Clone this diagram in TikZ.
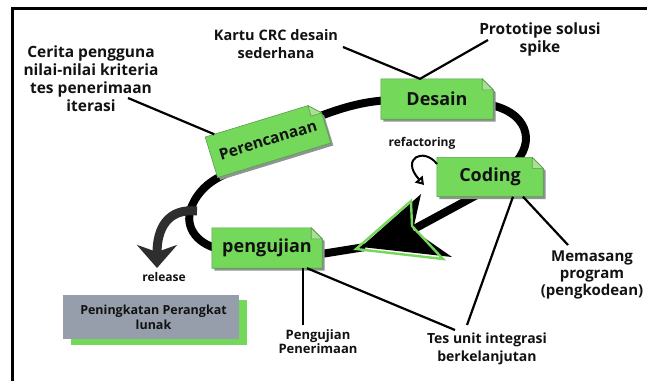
\documentclass[tikz,border=0pt]{standalone}
\usepackage{fontspec}
\setmainfont{Open Sans}
\usetikzlibrary{calc,arrows.meta}
\definecolor{gr}{HTML}{74D85B}
\definecolor{grline}{HTML}{5E9A50}
\definecolor{shad}{HTML}{8C9690}
\definecolor{foldc}{HTML}{A8E096}
\definecolor{slate}{HTML}{959EAA}
\definecolor{relgray}{HTML}{2E2E2E}
\definecolor{txt}{HTML}{121212}
\pgfdeclarelayer{bg}
\pgfsetlayers{bg,main}
\newcommand\docshape[1]{%
 \coordinate (#1-a) at (#1.south west);
 \coordinate (#1-b) at (#1.north west);
 \coordinate (#1-c) at ($(#1.north east)!11pt!(#1.north west)$);
 \coordinate (#1-d) at ($(#1.north east)!11pt!(#1.south east)$);
 \coordinate (#1-e) at (#1.south east);
 \coordinate (#1-f) at ($(#1-c)+(#1-d)-(#1.north east)$);
 \fill[shad] ($(#1-a)+(2.5pt,-2.5pt)$) -- ($(#1-b)+(2.5pt,-2.5pt)$) -- ($(#1-c)+(2.5pt,-2.5pt)$) -- ($(#1-d)+(2.5pt,-2.5pt)$) -- ($(#1-e)+(2.5pt,-2.5pt)$) -- cycle;
 \filldraw[fill=gr, draw=grline, line width=0.6pt] (#1-a) -- (#1-b) -- (#1-c) -- (#1-d) -- (#1-e) -- cycle;
 \filldraw[fill=foldc, draw=grline, line width=0.6pt] (#1-c) -- (#1-f) -- (#1-d) -- cycle;
}
\begin{document}
\begin{tikzpicture}[x=1pt,y=-1pt,
  docnode/.style={inner sep=0pt, text=txt, font=\fontsize{18}{20}\selectfont\bfseries},
  lbl/.style={align=center, text=txt, font=\fontsize{14}{18}\selectfont\bfseries},
  small/.style={align=center, text=txt, font=\fontsize{12}{14}\selectfont\bfseries},
  conn/.style={line width=2.2pt, black},
  loopline/.style={line width=8pt, black}]
\useasboundingbox (0,0) rectangle (647,381);

% nodes
\node[docnode, minimum width=112pt, minimum height=40pt] (des) at (437,99) {Desain};
\node[docnode, minimum width=106pt, minimum height=39pt] (cod) at (490,177) {Coding};
\node[docnode, minimum width=110pt, minimum height=40pt] (pen) at (267,248) {pengujian};
\node[docnode, rotate=17, minimum width=118pt, minimum height=42pt, font=\fontsize{15.5}{17}\selectfont\bfseries] (per) at (268,140) {Perencanaan};

\begin{pgfonlayer}{bg}
 \fill[white] (0,0) rectangle (647,381);
 % frame
 \draw[line width=3pt] (12,381) -- (12,8) -- (647,8);
 % loop
 \draw[loopline] (224,250) .. controls (198,246) and (184,228) .. (191,208) .. controls (198,190) and (212,178) .. (236,170);
 \draw[loopline] (305,122) .. controls (335,110) and (360,101) .. (392,100);
 \draw[loopline] (485,104) .. controls (527,110) and (538,142) .. (512,166);
 \draw[loopline] (486,190) -- (414,229);
 \draw[loopline] (365,247) -- (315,255);
 % arrowhead
 \fill[black] (361,247) -- (421,194) -- (413,230) -- (452,257) -- cycle;
 \draw[gr, line width=2.4pt, line join=miter] (356,249) -- (411,201) -- (412,226) -- (443,259) -- cycle;
 % doc shapes
 \docshape{des}
 \docshape{cod}
 \docshape{pen}
 \docshape{per}
\end{pgfonlayer}

% release arrow
\draw[relgray, line width=9pt, -{Stealth[length=23pt,width=40pt,inset=7pt]}] (197,211) .. controls (168,208) and (157,228) .. (157,268);
\node[small] (rel) at (164,277) {release};

% gray box
\fill[gr] (71,300) rectangle (247,345);
\node[fill=slate, minimum width=176pt, minimum height=44pt, inner sep=0pt, align=center, text=txt, font=\fontsize{12.5}{15}\selectfont\bfseries] (pp) at (151,317) {\hspace*{5pt}Peningkatan Perangkat\\\hspace*{5pt}lunak};

% refactoring
\node[small] (ref) at (422,143) {refactoring};
\coordinate (rfs) at (437,164);
\coordinate (rfe) at (424,185);
\draw[line width=2pt, -{Triangle[open,length=8pt,width=10pt]}] (rfs) .. controls (424,147) and (400,158) .. (rfe);

% labels
\node[lbl, font=\fontsize{15.5}{18}\selectfont\bfseries] (cer) at (91,79) {Cerita pengguna\\nilai-nilai kriteria\\tes penerimaan\\iterasi};
\node[lbl, font=\fontsize{14.5}{18}\selectfont\bfseries] (crc) at (276,44) {Kartu CRC desain\\sederhana};
\node[lbl, font=\fontsize{15.5}{18}\selectfont\bfseries] (pro) at (540,39) {Prototipe solusi\\spike};
\node[lbl, font=\fontsize{15}{17}\selectfont\bfseries] (mem) at (592,275) {Memasang\\program\\(pengkodean)};
\node[lbl] (tes) at (487,349) {Tes unit integrasi\\berkelanjutan};
\node[small, font=\fontsize{13}{14}\selectfont\bfseries] (pnr) at (318,342) {Pengujian\\Penerimaan};

% connectors
\coordinate (c1) at (128,98);
\coordinate (c2) at (343,47);
\coordinate (c3) at (488,40);
\coordinate (c4) at (467,325);
\coordinate (c5) at (568,245);
\coordinate (c6) at (303,325);
\coordinate (c7) at (455,330);
\draw[conn] (c1) -- ($(per.north west)!0.08!(per.north east)$);
\draw[conn] (c2) -- ([xshift=-17pt]des.north) -- (c3);
\draw[conn] ([xshift=23pt]cod.south) -- (c4);
\draw[conn] ([xshift=33pt]cod.south) -- (c5);
\draw[conn] ([xshift=36pt]pen.south) -- (c6);
\draw[conn] ([xshift=40pt]pen.south) -- (c7);
\end{tikzpicture}
\end{document}
